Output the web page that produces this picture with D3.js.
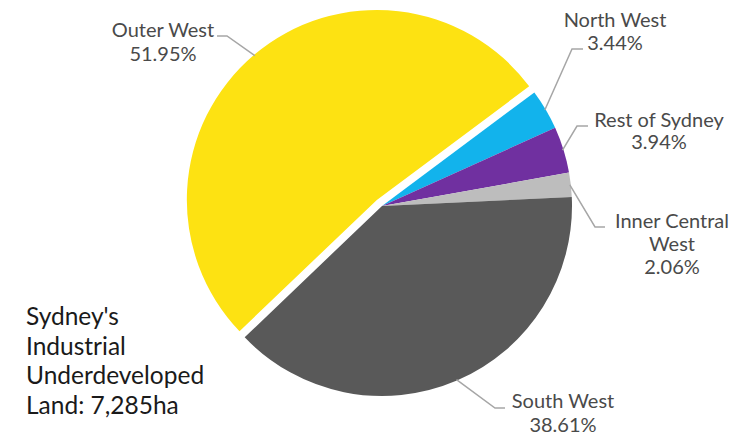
<!DOCTYPE html>
<html>
<head>
<meta charset="utf-8">
<script src="https://cdn.jsdelivr.net/npm/d3@7"></script>
<style>
  html, body { margin: 0; padding: 0; background: #ffffff; }
  svg { display: block; }
  text { font-family: Lato, "Open Sans", sans-serif; }
</style>
</head>
<body>
<svg id="chart" width="735" height="436"></svg>
<script>
// Share of Sydney's industrial underdeveloped land by region (%)
const regions = ["North West", "Rest of Sydney", "Inner Central West", "South West", "Outer West"];
const shares = [3.44, 3.94, 2.06, 38.61, 51.95];
const colours = ["#12b3ec", "#7030a0", "#bdbdbd", "#595959", "#fde212"];
const labelLines = [["North West"], ["Rest of Sydney"], ["Inner Central", "West"], ["South West"], ["Outer West"]];
const titleLines = ["Sydney's", "Industrial", "Underdeveloped", "Land: 7,285ha"];

const width = 735, height = 436;
const cx = 382, cy = 206, radius = 190;
const explode = { "Outer West": 8 };

// Label placement: leader elbow, horizontal tail end, text centre and first baseline
const labelLayout = {
  "North West":         { elbow: [572, 49],  end: [583, 49],  tx: 615, ty: 27,  lh: 23 },
  "Rest of Sydney":     { elbow: [577, 126], end: [588, 126], tx: 659, ty: 127, lh: 22 },
  "Inner Central West": { elbow: [595, 227], end: [605, 227], tx: 672, ty: 228, lh: 23 },
  "South West":         { elbow: [495, 408], end: [505, 408], tx: 563, ty: 408, lh: 24 },
  "Outer West":         { elbow: [227, 36],  end: [217, 36],  tx: 163, ty: 37,  lh: 24 }
};

const data = regions.map((r, i) => ({ region: r, value: shares[i], colour: colours[i], lines: labelLines[i] }));

const startA = 53.3 * Math.PI / 180;
const pie = d3.pie().value(d => d.value).sort(null)
  .startAngle(startA).endAngle(startA + 2 * Math.PI);
const arc = d3.arc().innerRadius(0).outerRadius(radius);

const svg = d3.select("#chart");
const g = svg.append("g").attr("transform", `translate(${cx},${cy})`);

const arcs = pie(data);

function offsetOf(d) {
  const k = explode[d.data.region] || 0;
  const mid = (d.startAngle + d.endAngle) / 2;
  return [k * Math.sin(mid), -k * Math.cos(mid)];
}

g.selectAll("path.slice")
  .data(arcs)
  .join("path")
  .attr("class", "slice")
  .attr("d", arc)
  .attr("fill", d => d.data.colour)
  .attr("transform", d => {
    const [ox, oy] = offsetOf(d);
    return `translate(${ox},${oy})`;
  });

// Leader lines from the rim at each slice's mid-angle
const leaders = svg.append("g");
arcs.forEach(d => {
  const lay = labelLayout[d.data.region];
  const mid = (d.startAngle + d.endAngle) / 2;
  const [ox, oy] = offsetOf(d);
  const r0 = radius - 1;
  const sx = cx + ox + r0 * Math.sin(mid);
  const sy = cy + oy - r0 * Math.cos(mid);
  leaders.append("polyline")
    .attr("points", [[sx, sy], lay.elbow, lay.end].map(p => p.join(",")).join(" "))
    .attr("fill", "none")
    .attr("stroke", "#a6a6a6")
    .attr("stroke-width", 1.5);

  const t = svg.append("text")
    .attr("text-anchor", "middle")
    .attr("fill", "#4a4a4a")
    .style("font-size", "20px");
  const lines = d.data.lines.concat([d3.format(".2f")(d.data.value) + "%"]);
  lines.forEach((ln, i) => {
    t.append("tspan").attr("x", lay.tx).attr("y", lay.ty + i * lay.lh).text(ln);
  });
});

// Total area note
const title = svg.append("text")
  .attr("fill", "#1a1a1a")
  .style("font-size", "24.5px");
titleLines.forEach((ln, i) => {
  title.append("tspan").attr("x", 26).attr("y", 325 + i * 29.5).text(ln);
});
</script>
</body>
</html>
